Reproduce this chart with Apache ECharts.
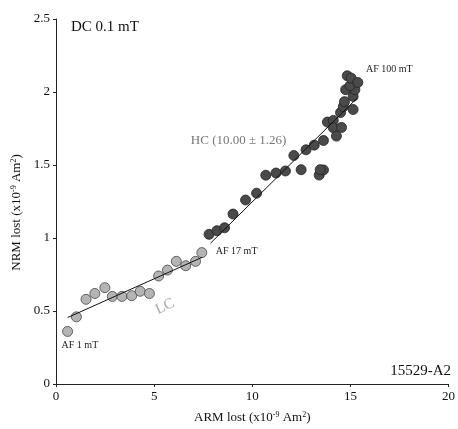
<!DOCTYPE html>
<html><head><meta charset="utf-8">
<script src="https://cdn.jsdelivr.net/npm/echarts@6/dist/echarts.min.js"></script>
<style>html,body{margin:0;padding:0;background:#fff}#c{width:458px;height:429px}</style>
</head><body><div id="c"></div>
<script>
// Low-coercivity (LC) steps: ARM lost, NRM lost (x10^-9 Am^2)
var lcX = [0.59, 1.04, 1.53, 1.98, 2.49, 2.87, 3.36, 3.86, 4.29, 4.76, 5.23, 5.68, 6.13, 6.61, 7.11, 7.43];
var lcY = [0.36, 0.46, 0.58, 0.62, 0.66, 0.60, 0.60, 0.605, 0.635, 0.62, 0.74, 0.78, 0.84, 0.81, 0.84, 0.90];
// High-coercivity (HC) steps
var hcX = [7.80, 8.20, 8.59, 9.02, 9.66, 10.22, 10.69, 11.21, 11.69, 12.12, 12.49, 12.74, 13.16, 13.63, 13.41, 13.63, 13.46, 13.83, 14.13, 14.13, 14.55, 14.29, 14.50, 14.64, 14.70, 15.14, 15.14, 14.76, 15.23, 14.98, 14.84, 15.04, 15.38];
var hcY = [1.025, 1.05, 1.07, 1.164, 1.26, 1.307, 1.43, 1.445, 1.459, 1.565, 1.468, 1.604, 1.636, 1.668, 1.431, 1.466, 1.468, 1.794, 1.805, 1.755, 1.757, 1.698, 1.859, 1.90, 1.934, 1.88, 1.97, 2.016, 2.016, 2.043, 2.111, 2.095, 2.065];
// Fit lines (endpoints)
var lcFitX = [0.59, 7.45];
var lcFitY = [0.455, 0.868];
var hcFitX = [7.87, 15.35];
var hcFitY = [0.964, 1.959];
// Axis ticks
var xTicks = [0, 5, 10, 15, 20];
var yTicks = [0, 0.5, 1, 1.5, 2, 2.5];

function pairs(xs, ys){ return xs.map(function(x,i){ return [x, ys[i]]; }); }

var serif = '"Liberation Serif", "DejaVu Serif", serif';
var chart = echarts.init(document.getElementById('c'), null, {renderer:'canvas'});
var option = {
  animation: false,
  backgroundColor: '#fff',
  textStyle: {fontFamily: serif},
  grid: {left: 56, right: 6, top: 19, bottom: 43, containLabel: false},
  xAxis: {
    type: 'value', min: xTicks[0], max: xTicks[xTicks.length-1], interval: 5,
    name: 'ARM lost (x10{sup|-9} Am{sup|2})', nameLocation: 'middle', nameGap: 27,
    nameTextStyle: {fontFamily: serif, fontSize: 13, color: '#111',
      rich: {sup: {fontFamily: serif, fontSize: 8, verticalAlign: 'top', color: '#111'}}},
    axisLine: {show: true, onZero: false, lineStyle: {color: '#222', width: 1}},
    axisTick: {show: true, length: 3, lineStyle: {color: '#222'}},
    axisLabel: {fontFamily: serif, fontSize: 13, color: '#111', margin: 6},
    splitLine: {show: false}
  },
  yAxis: {
    type: 'value', min: yTicks[0], max: yTicks[yTicks.length-1], interval: 0.5,
    name: 'NRM lost (x10{sup|-9} Am{sup|2})', nameLocation: 'middle', nameGap: 33,
    nameTextStyle: {fontFamily: serif, fontSize: 13, color: '#111', padding: [0, 22, 0, 0],
      rich: {sup: {fontFamily: serif, fontSize: 8, verticalAlign: 'top', color: '#111'}}},
    axisLine: {show: true, onZero: false, lineStyle: {color: '#222', width: 1}},
    axisTick: {show: true, length: 3, lineStyle: {color: '#222'}},
    axisLabel: {fontFamily: serif, fontSize: 13, color: '#111', margin: 6},
    splitLine: {show: false}
  },
  series: [
    {type: 'line', data: pairs(lcFitX, lcFitY), symbol: 'none', lineStyle: {color: '#111', width: 1}, z: 3},
    {type: 'line', data: pairs(hcFitX, hcFitY), symbol: 'none', lineStyle: {color: '#111', width: 1}, z: 3},
    {type: 'scatter', data: pairs(lcX, lcY), symbolSize: 10,
      itemStyle: {color: '#b4b4b4', borderColor: '#444', borderWidth: 0.8, opacity: 1}, z: 2},
    {type: 'scatter', data: pairs(hcX, hcY), symbolSize: 10,
      itemStyle: {color: '#4a4a4a', borderColor: '#222', borderWidth: 0.8, opacity: 1}, z: 2}
  ]
};
chart.setOption(option);

function px(x, y){ return chart.convertToPixel({gridIndex: 0}, [x, y]); }
var pAF1 = px(lcX[0], lcY[0]);
var pAF17 = px(lcX[lcX.length-1], lcY[lcY.length-1]);
var pAF100 = px(hcX[hcX.length-4], hcY[hcY.length-3]);
var pLC = px(5.55, 0.53);
var pHC = px(6.87, 1.668);
chart.setOption({
  graphic: [
    {type: 'text', left: 71, top: 20, style: {text: 'DC 0.1 mT', font: '15px ' + serif, fill: '#111'}},
    {type: 'text', right: 7, top: 364, style: {text: '15529-A2', font: '15px ' + serif, fill: '#111'}},
    {type: 'text', x: pAF1[0] - 6, y: pAF1[1] + 9, style: {text: 'AF 1 mT', font: '10px ' + serif, fill: '#222'}},
    {type: 'text', x: pAF17[0] + 14, y: pAF17[1] - 6, style: {text: 'AF 17 mT', font: '10px ' + serif, fill: '#222'}},
    {type: 'text', x: pAF100[0] + 16, y: pAF100[1] - 11, style: {text: 'AF 100 mT', font: '10px ' + serif, fill: '#222'}},
    {type: 'text', x: pHC[0], y: pHC[1], style: {text: 'HC (10.00 \u00b1 1.26)', font: '13px ' + serif, fill: '#777', textVerticalAlign: 'middle'}},
    {type: 'text', x: pLC[0], y: pLC[1], rotation: 0.44, originX: 0, originY: 0,
      style: {text: 'LC', font: '15px ' + serif, fill: '#aaa', textAlign: 'center', textVerticalAlign: 'middle'}}
  ]
});
</script></body></html>
